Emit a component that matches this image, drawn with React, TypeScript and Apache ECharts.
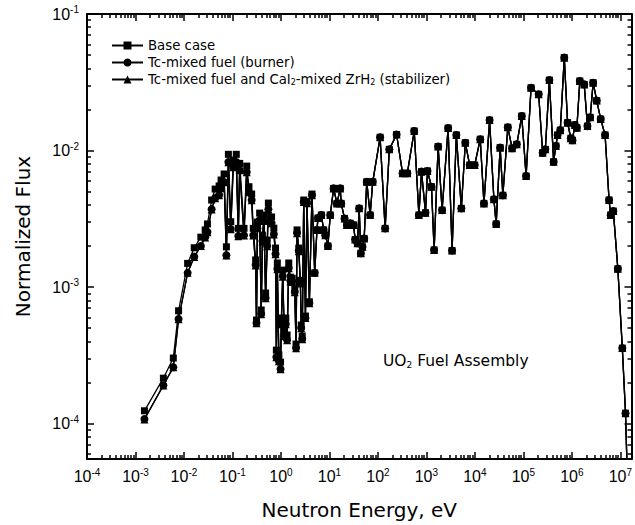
import React, { useEffect, useRef } from "react";
import * as echarts from "echarts";

const FONT = "Liberation Sans, Arial, Helvetica, sans-serif";
const WIDE = "DejaVu Sans, Liberation Sans, sans-serif";

// Neutron energy grid (eV)
const energies = [
  1.53e-3, 3.76e-3, 6.03e-3, 7.74e-3, 1.19e-2, 1.63e-2, 2.23e-2, 2.74e-2, 3.05e-2, 3.72e-2,
  4.4e-2, 5.31e-2, 5.83e-2, 6.73e-2, 7.5e-2, 8.24e-2, 9.23e-2, 0.104, 0.12, 0.132,
  0.141, 0.173, 0.197, 0.219, 0.249, 0.269, 0.301, 0.313, 0.327, 0.364,
  0.392, 0.415, 0.446, 0.483, 0.521, 0.551, 0.641, 0.714, 0.774, 0.805,
  0.843, 0.906, 0.982, 1.02, 1.09, 1.17, 1.26, 1.34, 1.45, 1.57,
  1.71, 1.93, 2.05, 2.15, 2.33, 2.52, 2.62, 2.75, 2.95, 3.2,
  3.45, 3.86, 4.37,
  4.97, 5.53, 5.81, 6.82, 7.6, 8.24, 9.31, 10.4, 12.2, 14.3,
  16.7, 17.5, 20.5, 22.9, 26.9, 31.4, 34, 37.9, 41.1, 44.4,
  48.1, 52.1, 58.9, 69.2, 78.2, 111, 141, 172, 243, 323,
  404, 561, 701, 793, 959, 1054, 1274, 1445, 1746, 2110,
  2805, 3388, 4150, 5260, 6350, 7820, 9900, 1.29e4, 1.54e4, 2.01e4,
  2.47e4, 2.75e4, 3.32e4, 3.78e4, 4.78e4, 5.86e4, 7.31e4, 9.27e4, 1.14e5, 1.44e5,
  2.07e5, 2.5e5, 2.84e5, 3.44e5, 4.21e5, 4.69e5, 5.08e5, 5.78e5, 6.98e5, 8.17e5,
  9.53e5, 1.03e6, 1.15e6, 1.27e6, 1.46e6, 1.8e6, 2.1e6, 2.39e6, 2.75e6, 3.26e6,
  3.94e6, 4.85e6, 5.86e6, 6.32e6, 7.18e6, 8.89e6, 1.1e7, 1.28e7, 1.45e7,
];

// Thermal / low-resonance region (first 63 energies), per case
const baseThermal = [
  1.24e-4, 2.15e-4, 3.02e-4, 6.7e-4, 1.49e-3, 1.94e-3, 2.32e-3, 2.62e-3, 2.9e-3, 4.34e-3,
  5.22e-3, 5.5e-3, 6.08e-3, 6.73e-3, 1.97e-3, 9.38e-3, 3.01e-3, 8.51e-3, 9.38e-3, 2.69e-3,
  8.05e-3, 2.69e-3, 7.69e-3, 5.43e-3, 4.8e-3, 2.69e-3, 1.58e-3, 5.73e-4, 2.99e-3, 3.48e-3,
  6.79e-4, 2.4e-3, 3.37e-3, 9.04e-4, 2.21e-3, 4.12e-3, 3.26e-3, 2.7e-3, 1.93e-3, 3.45e-4,
  1.5e-3, 3.18e-4, 2.82e-4, 5.93e-4, 1.33e-3, 4.84e-4, 5.93e-4, 4.45e-4, 1.5e-3, 1.18e-3,
  1.16e-3, 9.84e-4, 3.82e-4, 2.62e-3, 1.93e-3, 1.12e-3, 5.27e-4, 4.38e-4, 4.34e-3, 6.13e-4,
  4.22e-3, 7.8e-4, 4.8e-3,
];
const tcThermal = [
  1.08e-4, 1.91e-4, 2.59e-4, 5.83e-4, 1.27e-3, 1.67e-3, 2.0e-3, 2.32e-3, 2.53e-3, 3.72e-3,
  4.49e-3, 4.72e-3, 5.31e-3, 5.88e-3, 1.71e-3, 8.24e-3, 2.66e-3, 7.57e-3, 8.24e-3, 2.37e-3,
  7.2e-3, 2.4e-3, 6.95e-3, 4.97e-3, 4.34e-3, 2.4e-3, 1.45e-3, 5.45e-4, 2.7e-3, 3.1e-3,
  6.34e-4, 2.17e-3, 3.05e-3, 8.3e-4, 2.0e-3, 3.72e-3, 2.94e-3, 2.44e-3, 1.75e-3, 3.07e-4,
  1.36e-3, 2.87e-4, 2.51e-4, 5.36e-4, 1.2e-3, 4.38e-4, 5.36e-4, 4.09e-4, 1.38e-3, 1.11e-3,
  1.1e-3, 9.18e-4, 3.57e-4, 2.49e-3, 1.84e-3, 1.07e-3, 5.01e-4, 4.16e-4, 4.2e-3, 5.93e-4,
  4.12e-3, 7.64e-4, 4.72e-3,
];
const stabThermal = [
  1.07e-4, 1.9e-4, 2.58e-4, 5.8e-4, 1.27e-3, 1.66e-3, 2.0e-3, 2.31e-3, 2.52e-3, 3.7e-3,
  4.47e-3, 4.7e-3, 5.3e-3, 5.86e-3, 1.7e-3, 8.2e-3, 2.65e-3, 7.55e-3, 8.2e-3, 2.36e-3,
  7.18e-3, 2.39e-3, 6.93e-3, 4.95e-3, 4.32e-3, 2.39e-3, 1.44e-3, 5.43e-4, 2.69e-3, 3.09e-3,
  6.32e-4, 2.16e-3, 3.04e-3, 8.28e-4, 1.99e-3, 3.7e-3, 2.93e-3, 2.43e-3, 1.74e-3, 3.06e-4,
  1.35e-3, 2.86e-4, 2.5e-4, 5.34e-4, 1.19e-3, 4.36e-4, 5.34e-4, 4.07e-4, 1.37e-3, 1.1e-3,
  1.09e-3, 9.15e-4, 3.56e-4, 2.48e-3, 1.83e-3, 1.06e-3, 5.0e-4, 4.15e-4, 4.19e-3, 5.92e-4,
  4.11e-3, 7.62e-4, 4.71e-3,
];
// Epithermal and fast region: the three cases coincide
const commonFlux = [
  1.27e-3, 2.62e-3, 3.2e-3, 3.37e-3, 2.62e-3, 2.4e-3, 2.0e-3, 3.37e-3, 5.28e-3, 4.1e-3,
  5.28e-3, 4.1e-3, 3.18e-3, 2.85e-3, 2.93e-3, 2.85e-3, 2.23e-3, 2.09e-3, 3.77e-3, 1.77e-3,
  1.97e-3, 2.27e-3, 5.9e-3, 3.37e-3, 5.9e-3, 1.25e-2, 2.69e-3, 1.02e-2, 1.31e-2, 6.81e-3,
  6.81e-3, 1.39e-2, 3.37e-3, 7.0e-3, 3.5e-3, 7.08e-3, 5.43e-3, 1.87e-3, 1.07e-2, 3.66e-3,
  1.46e-2, 1.85e-3, 1.3e-2, 3.77e-3, 1.14e-2, 7.83e-3, 7.83e-3, 1.21e-2, 4.1e-3, 1.67e-2,
  4.39e-3, 2.9e-3, 1.05e-2, 4.7e-3, 1.48e-2, 1.04e-2, 1.11e-2, 1.79e-2, 6.5e-3, 2.88e-2,
  2.58e-2, 9.64e-3, 1.02e-2, 3.28e-2, 8.28e-3, 1.08e-2, 1.3e-2, 1.41e-2, 4.79e-2, 1.6e-2,
  1.23e-2, 1.19e-2, 1.54e-2, 1.47e-2, 3.23e-2, 3.05e-2, 1.51e-2, 1.75e-2, 3.14e-2, 2.32e-2,
  1.7e-2, 1.3e-2, 4.34e-3, 3.37e-3, 3.6e-3, 1.36e-3, 3.57e-4, 1.19e-4, 2.5e-5,
];

const baseFlux = [...baseThermal, ...commonFlux];
const tcFlux = [...tcThermal, ...commonFlux];
const stabFlux = [...stabThermal, ...commonFlux];

const seriesNames = [
  "Base case",
  "Tc-mixed fuel (burner)",
  "Tc-mixed fuel and CaI2-mixed ZrH2 (stabilizer)",
];

const xMajor = [1e-4, 1e-3, 1e-2, 1e-1, 1, 10, 100, 1e3, 1e4, 1e5, 1e6, 1e7];
const yMajor = [1e-4, 1e-3, 1e-2, 1e-1];
const X_MIN = 1e-4;
const X_MAX = 1.7e7;
const Y_MIN = 5.5e-5;
const Y_MAX = 1e-1;

function minors(lo: number, hi: number): number[] {
  const out: number[] = [];
  for (let d = -6; d <= 8; d++) {
    for (let k = 2; k <= 9; k++) {
      const v = parseFloat((k * Math.pow(10, d)).toPrecision(6));
      if (v > lo && v < hi) out.push(v);
    }
  }
  return out;
}

const supFormatter = (v: number) => `{b|10}{s|${Math.round(Math.log10(v))}}`;
const richLabel = {
  b: { fontSize: 16, fontFamily: FONT, color: "#000", lineHeight: 19 },
  s: { fontSize: 10, fontFamily: FONT, color: "#000", verticalAlign: "top", lineHeight: 12 },
};

function buildOption() {
  const black = "#000";
  const xMinor = minors(X_MIN, X_MAX);
  const yMinor = minors(Y_MIN, Y_MAX);
  const baseX = { type: "log", min: X_MIN, max: X_MAX, gridIndex: 0, splitLine: { show: false } };
  const baseY = { type: "log", min: Y_MIN, max: Y_MAX, gridIndex: 0, splitLine: { show: false } };
  const line = { show: true, lineStyle: { color: black, width: 2 } };
  const noLine = { show: false };
  const majorTick = (vals: number[]) => ({ show: true, inside: true, length: 7, customValues: vals, lineStyle: { color: black, width: 1.5 } });
  const minorTickA = (vals: number[]) => ({ show: true, inside: true, length: 4, customValues: vals, lineStyle: { color: black, width: 1.5 } });

  const mk = (data: number[]) => energies.map((e, i) => [e, data[i]]);
  const lineStyle = { color: black, width: 1.3 };

  return {
    animation: false,
    backgroundColor: "#fff",
    grid: { left: 87, right: 1, top: 14, bottom: 66, containLabel: false },
    legend: {
      left: 111,
      top: 39,
      padding: 0,
      orient: "vertical",
      itemWidth: 31,
      itemHeight: 10,
      itemGap: 4,
      data: seriesNames,
      textStyle: {
        fontSize: 13.3,
        fontFamily: WIDE,
        color: black,
        rich: {
          sub: { fontSize: 8, fontFamily: WIDE, color: black, verticalAlign: "bottom", padding: [6, 0, 0, 0] },
        },
      },
      formatter: (name: string) =>
        name === seriesNames[2] ? "Tc-mixed fuel and CaI{sub|2}-mixed ZrH{sub|2} (stabilizer)" : name,
    },
    xAxis: [
      {
        ...baseX,
        position: "bottom",
        axisLine: line,
        axisTick: majorTick(xMajor),
        axisLabel: { show: true, margin: 8, customValues: xMajor, formatter: supFormatter, rich: richLabel },
        name: "Neutron Energy, eV",
        nameLocation: "middle",
        nameGap: 41,
        nameTextStyle: { fontSize: 20, fontFamily: WIDE, color: black },
      },
      { ...baseX, position: "bottom", axisLine: noLine, axisTick: minorTickA(xMinor), axisLabel: { show: false } },
      { ...baseX, position: "top", axisLine: line, axisTick: majorTick(xMajor), axisLabel: { show: false } },
      { ...baseX, position: "top", axisLine: noLine, axisTick: minorTickA(xMinor), axisLabel: { show: false } },
    ],
    yAxis: [
      {
        ...baseY,
        position: "left",
        axisLine: line,
        axisTick: majorTick(yMajor),
        axisLabel: { show: true, margin: 8, customValues: yMajor, formatter: supFormatter, rich: richLabel },
        name: "Normalized Flux",
        nameLocation: "middle",
        nameGap: 54,
        nameTextStyle: { fontSize: 20, fontFamily: WIDE, color: black },
      },
      { ...baseY, position: "left", axisLine: noLine, axisTick: minorTickA(yMinor), axisLabel: { show: false } },
      { ...baseY, position: "right", axisLine: line, axisTick: majorTick(yMajor), axisLabel: { show: false } },
      { ...baseY, position: "right", axisLine: noLine, axisTick: minorTickA(yMinor), axisLabel: { show: false } },
    ],
    graphic: [
      {
        type: "text",
        left: 383,
        top: 353,
        style: {
          text: "UO{sub|2} Fuel Assembly",
          fontSize: 15.5,
          fontFamily: WIDE,
          fill: black,
          rich: { sub: { fontSize: 9, fontFamily: WIDE, fill: black, verticalAlign: "bottom", padding: [7, 0, 0, 0] } },
        },
      },
    ],
    series: [
      {
        name: seriesNames[0],
        type: "line",
        xAxisIndex: 0,
        yAxisIndex: 0,
        data: mk(baseFlux),
        symbol: "rect",
        symbolSize: 7,
        lineStyle,
        itemStyle: { color: black },
      },
      {
        name: seriesNames[1],
        type: "line",
        xAxisIndex: 0,
        yAxisIndex: 0,
        data: mk(tcFlux),
        symbol: "circle",
        symbolSize: 8,
        lineStyle,
        itemStyle: { color: black },
      },
      {
        name: seriesNames[2],
        type: "line",
        xAxisIndex: 0,
        yAxisIndex: 0,
        data: mk(stabFlux),
        symbol: "triangle",
        symbolSize: 8,
        lineStyle,
        itemStyle: { color: black },
      },
    ],
  };
}

export default function App() {
  const ref = useRef<HTMLDivElement>(null);
  useEffect(() => {
    if (!ref.current) return;
    const chart = echarts.init(ref.current, null, { renderer: "svg" });
    chart.setOption(buildOption() as any);
    return () => chart.dispose();
  }, []);
  return (
    <div
      ref={ref}
      style={{ position: "fixed", left: 0, top: 0, width: 635, height: 525, background: "#fff" }}
    />
  );
}
